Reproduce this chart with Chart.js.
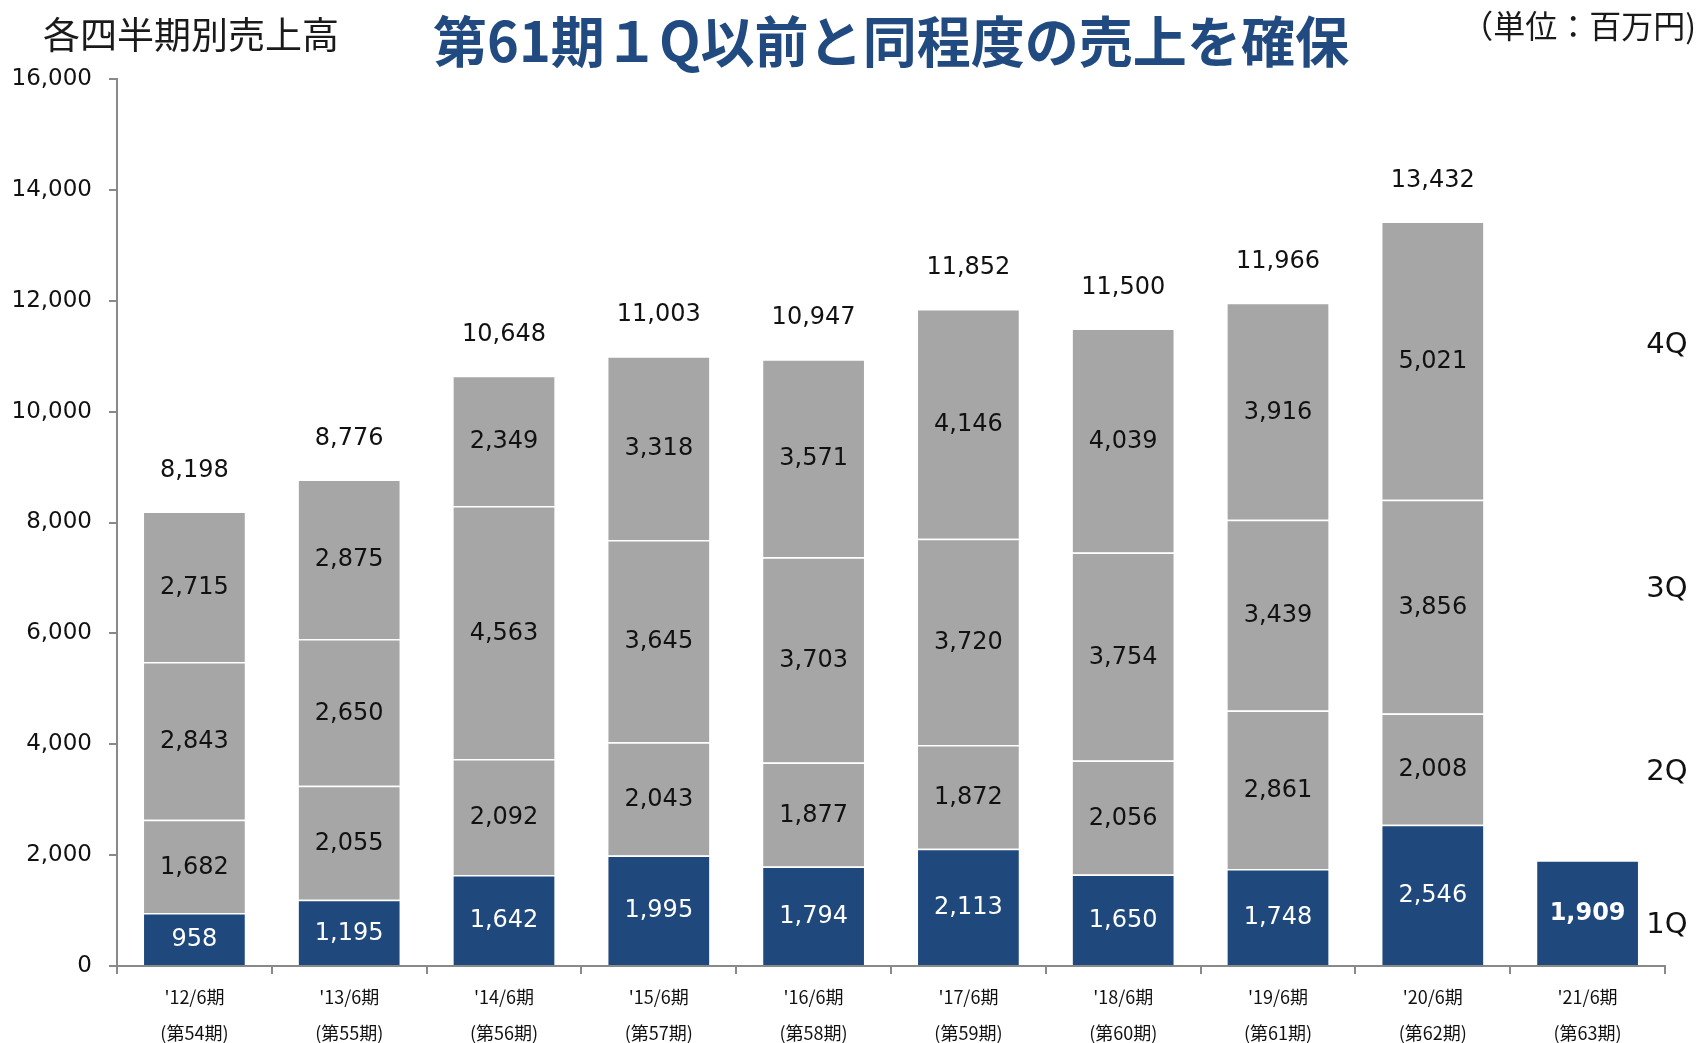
<!DOCTYPE html>
<html lang="ja">
<head>
<meta charset="utf-8">
<title>各四半期別売上高</title>
<script src="https://cdn.jsdelivr.net/npm/chart.js@4.4.1/dist/chart.umd.min.js"></script>
<style>
  html, body { margin: 0; padding: 0; background: #fff; }
  #wrap { width: 1699px; height: 1043px; }
</style>
</head>
<body>
<div id="wrap"><canvas id="salesChart" width="1699" height="1043"></canvas></div>
<script>
const categories = [
  ["'12/6期", "(第54期)"], ["'13/6期", "(第55期)"], ["'14/6期", "(第56期)"],
  ["'15/6期", "(第57期)"], ["'16/6期", "(第58期)"], ["'17/6期", "(第59期)"],
  ["'18/6期", "(第60期)"], ["'19/6期", "(第61期)"], ["'20/6期", "(第62期)"],
  ["'21/6期", "(第63期)"]
];
const q1 = [958, 1195, 1642, 1995, 1794, 2113, 1650, 1748, 2546, 1909];
const q2 = [1682, 2055, 2092, 2043, 1877, 1872, 2056, 2861, 2008, null];
const q3 = [2843, 2650, 4563, 3645, 3703, 3720, 3754, 3439, 3856, null];
const q4 = [2715, 2875, 2349, 3318, 3571, 4146, 4039, 3916, 5021, null];
const totals = [8198, 8776, 10648, 11003, 10947, 11852, 11500, 11966, 13432, null];
const yTicks = [0, 2000, 4000, 6000, 8000, 10000, 12000, 14000, 16000];

const NAVY = '#1f497d';
const GRAY = '#a6a6a6';
const AXIS = '#898989';
const FONT = '"DejaVu Sans", "Noto Sans CJK JP", sans-serif';
const JP = '"Noto Sans CJK JP", "DejaVu Sans", sans-serif';

const fmt = v => v.toLocaleString('en-US');

function dataset(label, data, color) {
  return {
    label: label,
    data: data,
    backgroundColor: color,
    borderColor: '#ffffff',
    borderWidth: 1.5,
    borderSkipped: 'bottom',
    stack: 's',
    categoryPercentage: 1.0,
    barPercentage: 0.67
  };
}

const labelPlugin = {
  id: 'labels',
  afterDatasetsDraw(chart) {
    const ctx = chart.ctx;
    ctx.save();
    ctx.textAlign = 'center';
    ctx.textBaseline = 'middle';

    chart.data.datasets.forEach((ds, di) => {
      const meta = chart.getDatasetMeta(di);
      meta.data.forEach((bar, i) => {
        const v = ds.data[i];
        if (v == null) return;
        const last = i === categories.length - 1;
        ctx.fillStyle = di === 0 ? '#ffffff' : '#111111';
        ctx.font = (last ? 'bold ' : '') + '24px ' + FONT;
        ctx.fillText(fmt(v), bar.x, (bar.y + bar.base) / 2 + 1);
      });
    });

    // totals above each stack
    const topMeta = chart.getDatasetMeta(3);
    ctx.fillStyle = '#111111';
    ctx.font = '24px ' + FONT;
    totals.forEach((t, i) => {
      if (t == null) return;
      const bar = topMeta.data[i];
      ctx.fillText(fmt(t), bar.x, bar.y - 41);
    });

    // quarter names on the right
    ctx.font = '29px ' + FONT;
    ctx.fillStyle = '#111111';
    const qx = chart.chartArea.right + 2;
    [['4Q', 345], ['3Q', 589], ['2Q', 772], ['1Q', 925]].forEach(([t, y]) => {
      ctx.fillText(t, qx, y);
    });

    // titles
    ctx.textAlign = 'left';
    ctx.fillStyle = '#1a1a1a';
    ctx.font = '37px ' + JP;
    ctx.fillText('各四半期別売上高', 43, 35, 296);

    ctx.textAlign = 'center';
    ctx.fillStyle = '#214b80';
    ctx.font = 'bold 55px ' + JP;
    ctx.fillText('第61期１Q以前と同程度の売上を確保', 891, 41, 916);

    ctx.textAlign = 'right';
    ctx.fillStyle = '#1a1a1a';
    ctx.font = '32px ' + JP;
    ctx.fillText('（単位：百万円)', 1696, 26, 255);
    ctx.restore();
  }
};

const ctx = document.getElementById('salesChart').getContext('2d');
const salesChart = new Chart(ctx, {
  type: 'bar',
  data: {
    labels: categories,
    datasets: [
      dataset('1Q', q1, NAVY),
      dataset('2Q', q2, GRAY),
      dataset('3Q', q3, GRAY),
      dataset('4Q', q4, GRAY)
    ]
  },
  options: {
    responsive: false,
    animation: false,
    devicePixelRatio: 1,
    layout: { padding: { top: 79, right: 34, left: 0, bottom: 0 } },
    plugins: {
      legend: { display: false },
      tooltip: { enabled: false }
    },
    scales: {
      x: {
        stacked: true,
        afterFit: s => { s.height = 77; },
        border: { color: AXIS, width: 2 },
        grid: { drawOnChartArea: false, color: AXIS, lineWidth: 2, tickLength: 8, offset: true },
        ticks: {
          color: '#111111',
          padding: 5,
          maxRotation: 0,
          font: { family: JP, size: 18, lineHeight: 2.0 }
        }
      },
      y: {
        stacked: true,
        min: 0,
        max: 16000,
        afterFit: s => { s.width = 117; },
        afterBuildTicks: s => { s.ticks = yTicks.map(v => ({ value: v })); },
        border: { color: AXIS, width: 2 },
        grid: { drawOnChartArea: false, color: AXIS, lineWidth: 2, tickLength: 8 },
        ticks: {
          color: '#111111',
          padding: 17,
          font: { family: FONT, size: 23 },
          callback: v => fmt(v)
        }
      }
    }
  },
  plugins: [labelPlugin]
});
</script>
</body>
</html>
